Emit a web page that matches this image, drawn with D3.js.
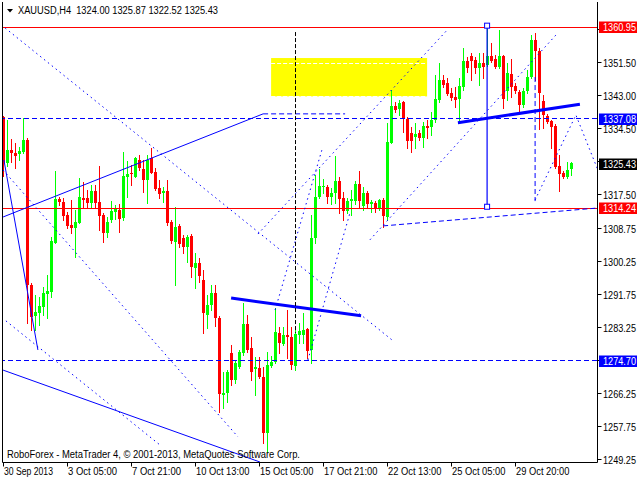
<!DOCTYPE html>
<html><head><meta charset="utf-8">
<script src="https://cdn.jsdelivr.net/npm/d3@7"></script>
<style>
body{margin:0;background:#fff}
svg{display:block}
text{font-family:"Liberation Sans",Arial,sans-serif;font-size:10px}
</style>
</head><body><svg id="c" width="640" height="480"></svg>
<script>
const symbolName = "XAUUSD,H4";
const headerOHLC = [1324.00, 1325.87, 1322.52, 1325.43];
const copyright = "RoboForex - MetaTrader 4, © 2001-2013, MetaQuotes Software Corp.";

const openP = [1337.4,1325.5,1328.9,1328.1,1327.9,1328.4,1331.5,1294.1,1286.1,1286.8,
1288.4,1291.7,1292.3,1304.9,1316.2,1315.5,1312.1,1309.5,1308.8,1310.1,
1316.5,1316.5,1315.2,1318.3,1315.5,1312.1,1307.5,1310.8,1312.9,1313.4,
1311.3,1321.9,1323.0,1321.9,1326.3,1324.0,1321.1,1326.8,1323.2,1319.1,
1317.8,1318.3,1310.3,1305.2,1309.3,1306.2,1303.9,1306.7,1298.4,1299.7,
1295.4,1286.3,1288.9,1292.0,1285.6,1265.7,1266.2,1276.5,1269.6,1272.9,
1276.5,1284.0,1277.8,1272.4,1272.6,1270.3,1255.9,1273.2,1274.2,1281.7,
1278.8,1281.2,1280.6,1273.2,1281.2,1281.2,1282.7,1277.3,1306.2,1316.8,
1319.3,1319.3,1316.8,1317.8,1320.9,1316.5,1313.2,1315.7,1315.7,1320.1,
1314.4,1317.8,1314.9,1315.2,1313.7,1316.0,1311.6,1330.7,1340.2,1339.5,
1341.3,1336.9,1333.3,1332.2,1333.3,1332.0,1335.1,1334.8,1336.6,1341.8,
1346.9,1346.2,1343.6,1342.6,1342.0,1345.1,1351.8,1353.1,1352.1,1350.0,
1351.3,1350.8,1353.1,1352.4,1350.3,1353.1,1344.1,1348.5,1345.4,1343.8,
1340.5,1344.1,1347.7,1357.2,1354.4,1341.5,1337.6,1336.4,1335.1,1324.8,
1322.9,1321.9,1324.00];
const highP = [1337.7,1336.6,1331.7,1330.7,1329.7,1337.1,1332.0,1294.6,1291.5,1291.0,
1293.5,1296.6,1306.4,1323.5,1316.8,1316.5,1312.9,1316.0,1313.4,1321.7,
1320.6,1318.6,1319.9,1319.9,1324.8,1312.6,1311.6,1315.7,1314.7,1315.0,
1328.4,1326.0,1325.0,1327.1,1327.6,1326.3,1327.6,1329.4,1324.2,1321.1,
1319.3,1321.1,1310.8,1314.2,1309.8,1307.0,1307.0,1307.2,1302.3,1301.0,
1297.9,1291.5,1294.1,1294.1,1286.1,1271.6,1272.1,1278.6,1274.7,1277.3,
1289.4,1286.3,1280.6,1275.5,1275.5,1272.9,1276.8,1275.7,1288.1,1283.2,
1283.2,1287.6,1283.2,1283.0,1284.3,1286.8,1283.0,1312.1,1322.4,1324.0,
1321.4,1319.9,1319.1,1327.3,1321.9,1318.1,1316.5,1318.6,1320.9,1323.5,
1319.3,1318.3,1316.0,1315.7,1316.2,1316.5,1335.9,1344.4,1341.3,1341.8,
1341.5,1337.4,1334.8,1335.9,1334.0,1336.1,1336.6,1338.7,1348.2,1351.3,
1348.2,1347.5,1344.9,1345.1,1347.5,1355.2,1352.9,1353.9,1352.9,1353.9,
1353.9,1360.95,1356.5,1353.4,1359.8,1353.4,1351.3,1352.4,1346.2,1344.4,
1344.9,1349.5,1358.5,1359.1,1355.2,1343.1,1338.2,1336.6,1335.6,1327.6,
1323.5,1325.8,1325.87];
const lowP = [1322.2,1324.8,1325.8,1324.2,1326.3,1328.1,1284.3,1282.5,1282.5,1283.7,
1286.3,1285.6,1291.0,1304.9,1314.7,1310.8,1308.8,1307.5,1301.3,1310.1,
1314.2,1314.2,1314.2,1313.9,1308.3,1305.2,1306.4,1310.3,1311.1,1307.7,
1310.8,1316.8,1319.9,1321.9,1323.7,1318.1,1315.2,1322.9,1318.6,1316.5,
1315.5,1309.5,1304.9,1294.1,1303.9,1302.3,1300.0,1296.1,1293.3,1294.8,
1281.7,1283.0,1287.6,1283.5,1261.3,1262.3,1263.9,1268.3,1268.8,1272.6,
1276.0,1276.8,1269.6,1265.7,1270.1,1253.3,1251.0,1272.9,1273.9,1276.5,
1278.6,1275.2,1272.4,1272.1,1279.1,1279.1,1275.2,1273.9,1304.9,1316.5,
1317.8,1315.2,1314.9,1315.2,1312.6,1310.8,1312.6,1312.1,1314.9,1314.2,
1313.4,1314.2,1312.9,1312.9,1313.4,1309.0,1310.8,1330.7,1338.7,1337.9,
1333.5,1329.4,1328.4,1329.4,1331.5,1329.7,1332.0,1332.8,1336.1,1341.3,
1345.1,1343.1,1341.8,1340.0,1336.1,1344.4,1349.0,1346.9,1348.7,1345.6,
1347.5,1350.5,1351.6,1350.0,1350.0,1339.7,1341.8,1342.6,1343.6,1338.4,
1340.0,1343.6,1347.5,1346.9,1334.3,1334.6,1335.9,1329.4,1324.2,1318.3,
1321.7,1321.7,1322.52];
const closeP = [1325.5,1328.9,1328.1,1327.3,1328.6,1331.5,1294.1,1285.8,1287.1,1288.6,
1292.0,1292.5,1305.4,1316.2,1315.5,1311.9,1309.3,1308.8,1310.3,1316.8,
1316.0,1315.2,1318.3,1315.2,1311.9,1307.5,1310.3,1313.2,1313.7,1311.1,
1322.2,1322.7,1322.7,1326.8,1324.2,1321.1,1326.3,1322.9,1318.8,1317.5,
1318.3,1310.0,1305.4,1309.0,1304.6,1303.9,1306.4,1298.7,1299.7,1296.4,
1286.8,1288.9,1292.0,1285.6,1265.9,1266.2,1271.6,1269.6,1273.9,1276.8,
1284.0,1277.3,1271.6,1272.9,1270.3,1255.9,1273.4,1274.2,1281.9,1279.1,
1281.2,1280.6,1273.4,1281.4,1282.2,1282.5,1277.0,1306.2,1316.8,1319.6,
1319.6,1316.8,1317.8,1320.9,1316.2,1313.2,1315.7,1316.2,1320.1,1315.7,
1317.8,1314.9,1315.5,1313.7,1316.0,1311.9,1330.9,1340.2,1339.2,1341.0,
1336.9,1331.2,1331.2,1333.0,1332.0,1335.1,1334.6,1336.6,1342.0,1346.9,
1345.6,1343.3,1342.3,1341.8,1345.4,1351.8,1350.0,1351.8,1350.0,1351.3,
1350.3,1353.1,1351.8,1350.3,1353.1,1342.0,1348.7,1345.1,1344.1,1340.5,
1344.1,1347.7,1357.2,1354.4,1343.6,1337.9,1336.1,1334.8,1324.5,1322.7,
1321.9,1323.7,1325.43];

const dateLabels = ["30 Sep 2013","3 Oct 05:00","7 Oct 21:00","10 Oct 13:00","15 Oct 05:00","17 Oct 21:00","22 Oct 13:00","25 Oct 05:00","29 Oct 20:00"];
const dateBars = [0,16,32,48,64,80,96,112,128];
const priceTicks = [1360.00,1351.50,1343.00,1334.50,1326.00,1317.50,1308.75,1300.25,1291.75,1283.25,1274.75,1266.25,1257.75,1249.25];

const redLevels = [1360.95, 1314.24];
const blueLevels = [1337.08, 1274.70];
const lastPrice = 1325.43;

// drawn objects in (bar index, price)
const dottedLines = [
  [[0.4,1360.35],[97.1,1279.9]],
  [[-0.1,1323.7],[58.6,1254.9]],
  [[0.6,1284.8],[39.1,1252.8]],
  [[63.6,1307.2],[110.9,1359.8]],
  [[91.6,1305.7],[138.6,1359.1]],
  [[67.9,1287.6],[79.6,1328.9]],
  [[76.1,1274.7],[86.6,1312.6]],
  [[132.9,1316.0],[143.1,1337.9],[148.6,1323.7]]
];
const solidLines = [
  [[-0.1,1311.6],[64.9,1338.2]],
  [[-0.1,1272.1],[64.1,1248.4]],
  [[0.1,1326.3],[8.6,1277.3]]
];
const dashedLines = [
  [[64.9,1338.2],[85.4,1338.2]],
  [[94.9,1309.3],[148.4,1313.9]],
  [[132.9,1347.7],[132.9,1315.7]]
];
const thickLines = [
  [[56.9,1290.7],[89.4,1286.1]],
  [[113.6,1335.9],[144.1,1340.7]]
];
const rangeLine = [[120.9,1360.95],[120.9,1314.24]];
const blackVLine = [[73,1359.3],[73,1281.7]];
const yellowBox = {x0:66.9, x1:105.9, p0:1352.6, p1:1342.7};

const svg = d3.select("#c");
const W = 640, H = 480;
const pLeft = 2.5, pRight = 597.5, pTop = 2, pBottom = 462.5;

const x = d3.scaleLinear().domain([0,142]).range([3.5,571.5]);
const y = d3.scaleLinear().domain([1249.25,1351.5]).range([458.7,62.3]);

svg.append("rect").attr("width",W).attr("height",H).attr("fill","#fff");
svg.append("defs").append("clipPath").attr("id","plot")
  .append("rect").attr("x",3).attr("y",pTop).attr("width",pRight-3).attr("height",pBottom-pTop);

const g = svg.append("g").attr("clip-path","url(#plot)");

// yellow rectangle
g.append("rect")
  .attr("x",x(yellowBox.x0)).attr("width",x(yellowBox.x1)-x(yellowBox.x0))
  .attr("y",y(yellowBox.p0)).attr("height",y(yellowBox.p1)-y(yellowBox.p0))
  .attr("fill","#ffff00");
[1351.4,1342.85].forEach(p=>{
  g.append("line").attr("x1",x(yellowBox.x0)).attr("x2",x(yellowBox.x1))
   .attr("y1",Math.round(y(p))+0.5).attr("y2",Math.round(y(p))+0.5)
   .attr("stroke","#fff").attr("stroke-dasharray","4,2");
});

// candles
const data = openP.map((o,i)=>({i,o,h:highP[i],l:lowP[i],c:closeP[i]}));
const cg = g.append("g").attr("shape-rendering","crispEdges");
data.forEach(d=>{
  const cx = Math.floor(x(d.i));
  const col = d.c >= d.o ? "#00ff00" : "#ff0000";
  cg.append("line").attr("x1",cx+0.5).attr("x2",cx+0.5)
    .attr("y1",Math.round(y(d.h))).attr("y2",Math.round(y(d.l))+1).attr("stroke",col);
  const yt = Math.round(y(Math.max(d.o,d.c))), yb = Math.round(y(Math.min(d.o,d.c)));
  cg.append("rect").attr("x",cx-1).attr("width",3)
    .attr("y",yt).attr("height",Math.max(1,yb-yt)).attr("fill",col);
});

// level lines
redLevels.forEach(p=>{
  g.append("line").attr("x1",0).attr("x2",pRight).attr("y1",Math.round(y(p))+1.5).attr("y2",Math.round(y(p))+1.5)
   .attr("stroke","#ff0000");
});
blueLevels.forEach(p=>{
  g.append("line").attr("x1",0).attr("x2",pRight).attr("y1",Math.round(y(p))+0.5).attr("y2",Math.round(y(p))+0.5)
   .attr("stroke","#0000ff").attr("stroke-dasharray","5,3");
});

const line = d3.line().x(d=>x(d[0])).y(d=>y(d[1]));
dottedLines.forEach(L=>g.append("path").attr("d",line(L)).attr("fill","none").attr("stroke","#0000ff").attr("stroke-dasharray","1.5,3.5"));
solidLines.forEach(L=>g.append("path").attr("d",line(L)).attr("fill","none").attr("stroke","#0000ff"));
dashedLines.forEach(L=>g.append("path").attr("d",line(L)).attr("fill","none").attr("stroke","#0000ff").attr("stroke-dasharray","5,3"));
thickLines.forEach(L=>g.append("path").attr("d",line(L)).attr("fill","none").attr("stroke","#0000ff").attr("stroke-width",3));
g.append("path").attr("d",line(rangeLine)).attr("fill","none").attr("stroke","#0000ff").attr("stroke-width",1.2);
rangeLine.forEach(d=>{
  g.append("rect").attr("x",x(d[0])-2.5).attr("y",y(d[1])-2.5).attr("width",5).attr("height",5)
   .attr("fill","#fff").attr("stroke","#0000ff");
});
g.append("path").attr("d",line(blackVLine)).attr("fill","none").attr("stroke","#000").attr("stroke-dasharray","4,2");

// frame
svg.append("line").attr("x1",pLeft).attr("x2",pLeft).attr("y1",pTop).attr("y2",pBottom).attr("stroke","#000");
svg.append("line").attr("x1",pRight).attr("x2",pRight).attr("y1",pTop).attr("y2",pBottom).attr("stroke","#000");
svg.append("line").attr("x1",pLeft).attr("x2",pRight).attr("y1",pBottom).attr("y2",pBottom).attr("stroke","#000");

// price axis (labels hidden under price tags are not written)
const tagged = [...redLevels, ...blueLevels, lastPrice];
priceTicks.forEach(p=>{
  const yy = Math.round(y(p))+0.5;
  svg.append("line").attr("x1",pRight).attr("x2",pRight+4).attr("y1",yy).attr("y2",yy).attr("stroke","#000");
  if (tagged.some(t=>Math.abs(y(t)-y(p))<9)) return;
  svg.append("text").attr("x",603).attr("y",yy+4).attr("fill","#000")
    .attr("textLength",33).attr("lengthAdjust","spacingAndGlyphs").text(p.toFixed(2));
});

// date axis
dateBars.forEach((b,k)=>{
  const xx = Math.floor(x(b))+0.5;
  svg.append("line").attr("x1",xx).attr("x2",xx).attr("y1",pBottom).attr("y2",pBottom+4).attr("stroke","#000");
  svg.append("text").attr("x",xx+0.5).attr("y",475).attr("fill","#000")
    .attr("textLength",dateLabels[k].length*4.45).attr("lengthAdjust","spacingAndGlyphs").text(dateLabels[k]);
});

// price tags
function tag(p,bg){
  const yy = Math.round(y(p))+1;
  svg.append("rect").attr("x",599).attr("y",yy-5.5).attr("width",38).attr("height",11.5).attr("fill",bg);
  svg.append("text").attr("x",603).attr("y",yy+4).attr("fill","#fff")
    .attr("textLength",33).attr("lengthAdjust","spacingAndGlyphs").text(p.toFixed(2));
}
tag(redLevels[0],"#ff0000");
tag(redLevels[1],"#ff0000");
tag(blueLevels[0],"#0000ff");
tag(blueLevels[1],"#0000ff");
tag(lastPrice,"#000000");

// header
svg.append("path").attr("d","M7,9 L13,9 L10,12.5 Z").attr("fill","#000");
svg.append("text").attr("x",18).attr("y",14).attr("fill","#000")
  .attr("textLength",200).attr("lengthAdjust","spacingAndGlyphs")
  .text(symbolName + "\u00a0\u00a0" + headerOHLC.map(v=>v.toFixed(2)).join(" "));
svg.append("text").attr("x",7).attr("y",458).attr("fill","#000")
  .attr("textLength",293).attr("lengthAdjust","spacingAndGlyphs").text(copyright);
</script></body></html>
